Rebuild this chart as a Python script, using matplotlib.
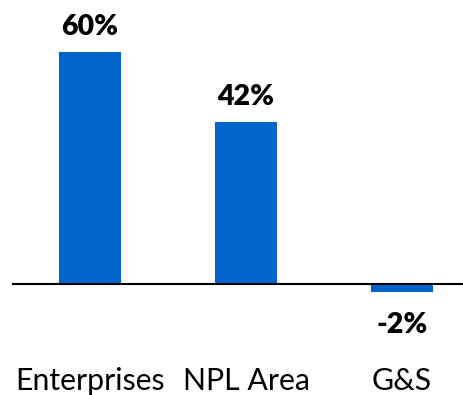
import matplotlib
matplotlib.use("Agg")
import matplotlib.pyplot as plt

categories = ["Enterprises", "NPL Area", "G&S"]
values = [60, 42, -2]
value_labels = ["60%", "42%", "-2%"]

BAR_COLOR = "#0066CC"
FONT = ["Lato", "DejaVu Sans"]

fig = plt.figure(figsize=(4.64, 3.95), dpi=100)
ax = fig.add_axes([12 / 464, 0, 452 / 464, 1])
x = list(range(len(categories)))
ax.bar(x, values, width=0.397, color=BAR_COLOR, zorder=2)
ax.axhline(0, color="black", linewidth=1.5, zorder=3)
ax.set_xlim(-0.5, 2.397)
ax.set_ylim(-28.7, 73.45)
ax.axis("off")

for xi, v, lab in zip(x, values, value_labels):
    y = v + 4.4 if v >= 0 else -12.7
    ax.text(xi, y, lab, ha="center", va="baseline", fontsize=20.5,
            fontweight="heavy", family=FONT, color="black")

for xi, c in zip(x, categories):
    ax.text(xi, -27.3, c, ha="center", va="baseline", fontsize=21.8,
            family=FONT, color="black")

fig.savefig("out.png", dpi=100)
